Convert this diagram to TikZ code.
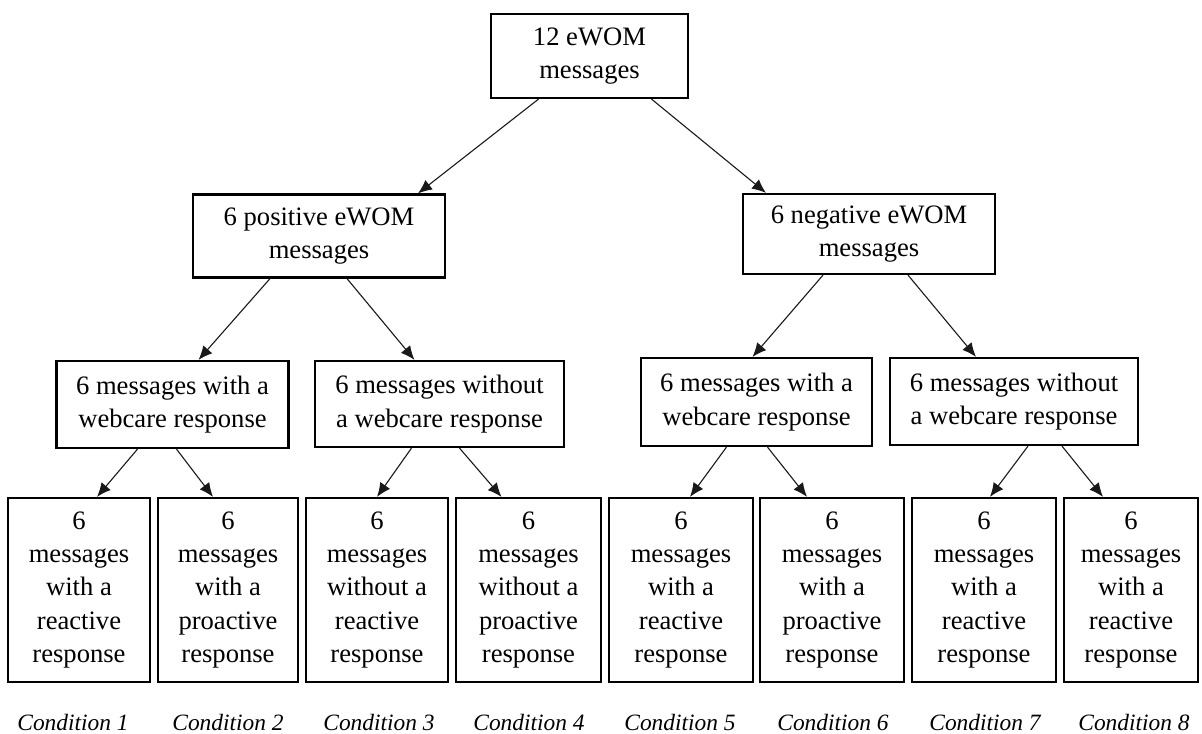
\documentclass[tikz,border=0pt]{standalone}
\usepackage{fontspec}
\setmainfont{Liberation Serif}
\usetikzlibrary{arrows.meta,calc}
\tikzstyle{msgbox}=[draw, line width=1.1pt, inner sep=0pt, align=center, font=\fontsize{13.3}{16.6}\selectfont]
\tikzstyle{split}=[-{Latex[length=7pt,width=6pt]}, line width=0.55pt, black!90]
\tikzstyle{cond}=[inner sep=0pt, font=\fontsize{11.7}{14}\selectfont\itshape]

\begin{document}
\begin{tikzpicture}[x=0.5pt,y=-0.5pt]
				\useasboundingbox (0,0) rectangle (1202,733);
				\node[msgbox, minimum width=98.5pt, minimum height=42pt] (all) at (589.5,56) {12 eWOM\\messages};
				\node[msgbox, minimum width=126pt, minimum height=41.5pt] (pos) at (319,236) {6 positive eWOM\\messages};
				\node[msgbox, minimum width=126pt, minimum height=40pt] (neg) at (869,234) {6 negative eWOM\\messages};
				\node[msgbox, minimum width=116pt, minimum height=43.5pt] (poswith) at (172.5,404.5) {6 messages with a\\webcare response};
				\node[msgbox, minimum width=124.5pt, minimum height=43pt] (poswithout) at (439.5,404) {6 messages without\\a webcare response};
				\node[msgbox, minimum width=115.5pt, minimum height=44pt] (negwith) at (756.5,402) {6 messages with a\\webcare response};
				\node[msgbox, minimum width=124pt, minimum height=43.5pt] (negwithout) at (1014,401.5) {6 messages without\\a webcare response};
				\node[msgbox, minimum width=71pt, minimum height=92pt] (r1) at (79,590) {6\\messages\\with a\\reactive\\response};
				\node[msgbox, minimum width=70pt, minimum height=92pt] (r2) at (228,590) {6\\messages\\with a\\proactive\\response};
				\node[msgbox, minimum width=71pt, minimum height=92pt] (r3) at (377,590) {6\\messages\\without a\\reactive\\response};
				\node[msgbox, minimum width=72.5pt, minimum height=92pt] (r4) at (528.5,590) {6\\messages\\without a\\proactive\\response};
				\node[msgbox, minimum width=72pt, minimum height=92pt] (r5) at (681,590) {6\\messages\\with a\\reactive\\response};
				\node[msgbox, minimum width=72pt, minimum height=92pt] (r6) at (832,590) {6\\messages\\with a\\proactive\\response};
				\node[msgbox, minimum width=72pt, minimum height=92pt] (r7) at (984,590) {6\\messages\\with a\\reactive\\response};
				\node[msgbox, minimum width=67pt, minimum height=92pt] (r8) at (1131,590) {6\\messages\\with a\\reactive\\response};
				\node[cond] (c1) at (73,722) {Condition 1};
				\node[cond] (c2) at (228,722) {Condition 2};
				\node[cond] (c3) at (379,722) {Condition 3};
				\node[cond] (c4) at (529,722) {Condition 4};
				\node[cond] (c5) at (680,722) {Condition 5};
				\node[cond] (c6) at (833,722) {Condition 6};
				\node[cond] (c7) at (985,722) {Condition 7};
				\node[cond] (c8) at (1134,722) {Condition 8};
				\draw[split] ($(all.south)+(-51,0)$) -- ($(pos.north)+(99,0)$);
				\draw[split] ($(all.south)+(62,0)$) -- ($(neg.north)+(-103,0)$);
				\draw[split] ($(pos.south)+(-49,0)$) -- ($(poswith.north)+(26,0)$);
				\draw[split] ($(pos.south)+(28,0)$) -- ($(poswithout.north)+(-25,0)$);
				\draw[split] ($(neg.south)+(-46,0)$) -- ($(negwith.north)+(-4,0)$);
				\draw[split] ($(neg.south)+(39,0)$) -- ($(negwithout.north)+(-38,0)$);
				\draw[split] ($(poswith.south)+(-35,0)$) -- ($(r1.north)+(18,0)$);
				\draw[split] ($(poswith.south)+(4,0)$) -- ($(r2.north)+(-15,0)$);
				\draw[split] ($(poswithout.south)+(-28,0)$) -- ($(r3.north)+(0,0)$);
				\draw[split] ($(poswithout.south)+(20,0)$) -- ($(r4.north)+(-27,0)$);
				\draw[split] ($(negwith.south)+(-30,0)$) -- ($(r5.north)+(9,0)$);
				\draw[split] ($(negwith.south)+(11,0)$) -- ($(r6.north)+(-25,0)$);
				\draw[split] ($(negwithout.south)+(14,0)$) -- ($(r7.north)+(6,0)$);
				\draw[split] ($(negwithout.south)+(48,0)$) -- ($(r8.north)+(-28,0)$);
\end{tikzpicture}
\end{document}
